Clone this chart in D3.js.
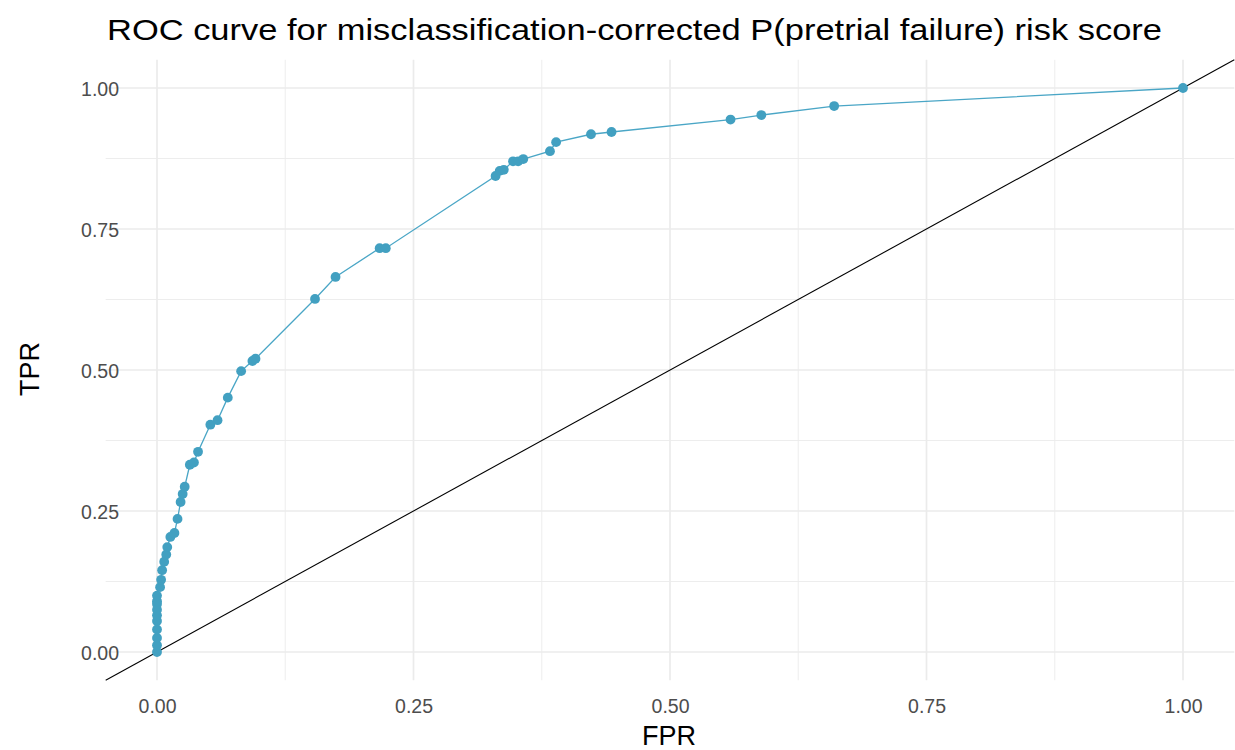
<!DOCTYPE html>
<html>
<head>
<meta charset="utf-8">
<script src="https://cdn.jsdelivr.net/npm/d3@7/dist/d3.min.js"></script>
<style>
  html, body { margin: 0; padding: 0; background: #fff; }
  svg { display: block; }
</style>
</head>
<body>
<svg id="chart" width="1235" height="750"></svg>
<script>
// ---- Data ----
const fpr = [0, 0, 0, 0, 0, 0, 0, 0, 0, 0,
  0.003, 0.004, 0.005, 0.007, 0.009, 0.010, 0.013, 0.017, 0.020, 0.023,
  0.025, 0.027, 0.032, 0.036, 0.040, 0.052, 0.059, 0.069, 0.082, 0.093,
  0.096, 0.154, 0.174, 0.217, 0.223, 0.330, 0.334, 0.338, 0.347, 0.352,
  0.357, 0.383, 0.389, 0.423, 0.443, 0.559, 0.589, 0.660, 1.000];
const tpr = [0, 0.012, 0.025, 0.04, 0.055, 0.065, 0.075, 0.085, 0.090, 0.100,
  0.115, 0.128, 0.145, 0.160, 0.173, 0.186, 0.204, 0.211, 0.236, 0.266,
  0.280, 0.293, 0.332, 0.336, 0.355, 0.403, 0.411, 0.451, 0.498, 0.516,
  0.520, 0.626, 0.665, 0.716, 0.716, 0.844, 0.853, 0.855, 0.870, 0.870,
  0.874, 0.888, 0.904, 0.918, 0.922, 0.944, 0.952, 0.968, 1.000];
const xTicks = [0, 0.25, 0.5, 0.75, 1.0];
const yTicks = [0, 0.25, 0.5, 0.75, 1.0];
const xMinor = [0.125, 0.375, 0.625, 0.875];
const yMinor = [0.125, 0.375, 0.625, 0.875];
const titleText = "ROC curve for misclassification-corrected P(pretrial failure) risk score";

// ---- Layout ----
const svg = d3.select("#chart");
const x = d3.scaleLinear().domain([-0.05, 1.05]).range([105.7, 1234.3]);
const y = d3.scaleLinear().domain([-0.05, 1.05]).range([680.2, 59.8]);
const font = "'Liberation Sans', Arial, sans-serif";

const grid = svg.append("g");
grid.selectAll(".vminor").data(xMinor).enter().append("line")
  .attr("x1", d => x(d)).attr("x2", d => x(d))
  .attr("y1", y.range()[0]).attr("y2", y.range()[1])
  .attr("stroke", "#ebebeb").attr("stroke-width", 0.9);
grid.selectAll(".hminor").data(yMinor).enter().append("line")
  .attr("y1", d => y(d)).attr("y2", d => y(d))
  .attr("x1", x.range()[0]).attr("x2", x.range()[1])
  .attr("stroke", "#ebebeb").attr("stroke-width", 0.9);
grid.selectAll(".vmajor").data(xTicks).enter().append("line")
  .attr("x1", d => x(d)).attr("x2", d => x(d))
  .attr("y1", y.range()[0]).attr("y2", y.range()[1])
  .attr("stroke", "#ebebeb").attr("stroke-width", 1.7);
grid.selectAll(".hmajor").data(yTicks).enter().append("line")
  .attr("y1", d => y(d)).attr("y2", d => y(d))
  .attr("x1", x.range()[0]).attr("x2", x.range()[1])
  .attr("stroke", "#ebebeb").attr("stroke-width", 1.7);

const xAxis = d3.axisBottom(x).tickValues(xTicks).tickFormat(d3.format(".2f")).tickSize(0).tickPadding(0);
const yAxis = d3.axisLeft(y).tickValues(yTicks).tickFormat(d3.format(".2f")).tickSize(0).tickPadding(0);
const gx = svg.append("g").attr("transform", "translate(0,713)").call(xAxis);
const gy = svg.append("g").attr("transform", "translate(119,0)").call(yAxis);
[gx, gy].forEach(g => {
  g.select(".domain").remove();
  g.selectAll("text").attr("font-family", font).attr("font-size", 19.5).attr("fill", "#4d4d4d");
});
gx.selectAll("text").attr("dy", "0");
gy.selectAll("text").attr("dy", "0.36em");

svg.append("line")
  .attr("x1", x(-0.05)).attr("y1", y(-0.05))
  .attr("x2", x(1.05)).attr("y2", y(1.05))
  .attr("stroke", "#000").attr("stroke-width", 1.1);

const pts = fpr.map((f, i) => ({ f, t: tpr[i] }));
svg.append("path").datum(pts)
  .attr("d", d3.line().x(d => x(d.f)).y(d => y(d.t)))
  .attr("fill", "none").attr("stroke", "#4aa6c6").attr("stroke-width", 1.3);
svg.selectAll(".pt").data(pts).enter().append("circle")
  .attr("cx", d => x(d.f)).attr("cy", d => y(d.t)).attr("r", 4.9)
  .attr("fill", "#42a0c1");

svg.append("text").attr("x", 107).attr("y", 40)
  .attr("font-family", font).attr("font-size", 30).attr("fill", "#000")
  .attr("textLength", 1055).attr("lengthAdjust", "spacingAndGlyphs")
  .text(titleText);
svg.append("text").attr("x", 669).attr("y", 745).attr("text-anchor", "middle")
  .attr("font-family", font).attr("font-size", 27).attr("fill", "#000").text("FPR");
svg.append("text").attr("transform", "translate(39,369) rotate(-90)").attr("text-anchor", "middle")
  .attr("font-family", font).attr("font-size", 27).attr("fill", "#000").text("TPR");
</script>
</body>
</html>
